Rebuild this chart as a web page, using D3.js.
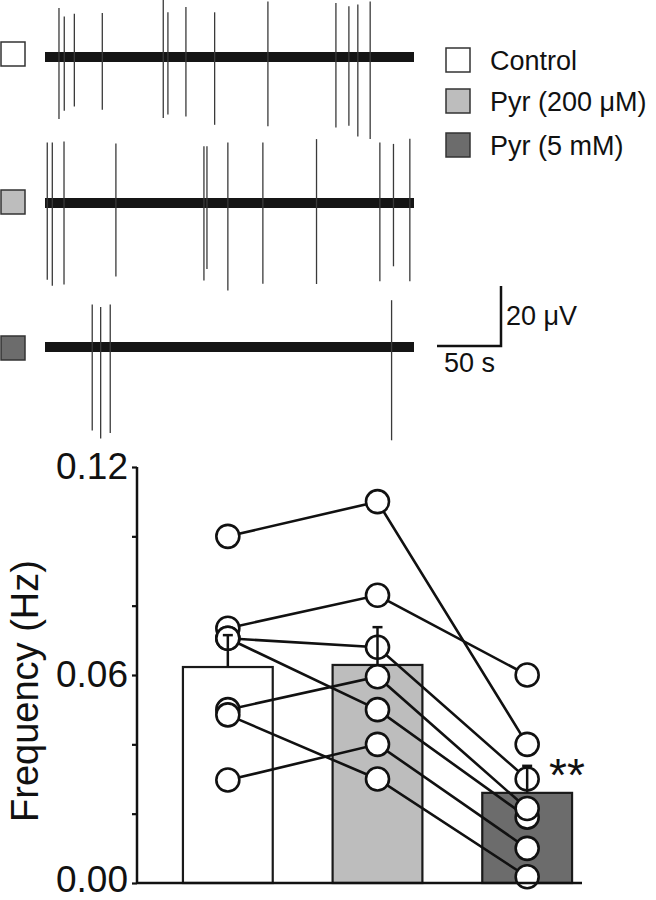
<!DOCTYPE html>
<html>
<head>
<meta charset="utf-8">
<script src="https://cdn.jsdelivr.net/npm/d3@7"></script>
<style>
  body { margin: 0; background: #fff; }
  text { font-family: "Liberation Sans", Arial, sans-serif; fill: #111; }
</style>
</head>
<body>
<div id="chart"></div>
<script>
// groups
var groups = ["Control", "Pyr (200 \u03bcM)", "Pyr (5 mM)"];
var groupColors = ["#ffffff", "#bdbdbd", "#6c6c6c"];

// bar means and SEM (Hz)
var means = [0.0623, 0.0629, 0.026];
var sems = [0.0092, 0.0109, 0.0078];

// paired data, one entry per cell (Hz)
var control = [0.100, 0.0735, 0.0706, 0.0706, 0.0500, 0.0485, 0.0297];
var pyr200 = [0.110, 0.083, 0.068, 0.050, 0.0595, 0.030, 0.040];
var pyr5 = [0.040, 0.060, 0.030, 0.019, 0.0215, 0.0018, 0.010];

var yTicks = [0, 0.02, 0.04, 0.06, 0.08, 0.10, 0.12];
var yLabels = [0, 0.06, 0.12];

// spike times (s), up and down amplitude (uV) for each trace
var spikeTimes1 = [11.1, 15.3, 23.3, 45.5, 93.9, 97.6, 111.9, 134.7, 177, 231, 241.3, 248.4, 258.2];
var spikeUp1 = [16.3, 13.5, 14.4, 14.7, 19.1, 14.9, 16.7, 14.9, 18.5, 18, 16.9, 17.5, 18.5];
var spikeDown1 = [20.7, 17.9, 16.5, 17.6, 20.3, 19.2, 19.8, 22.6, 23.1, 23.5, 22.9, 26.5, 27.3];

var spikeTimes2 = [1.8, 5.8, 15.1, 56.3, 126.2, 128.6, 145.2, 173, 215.6, 265.9, 276.7, 289.7];
var spikeUp2 = [20.2, 20.2, 20.5, 19.8, 18.9, 18.9, 20.2, 20.2, 21.3, 20.2, 19.7, 21.4];
var spikeDown2 = [25.6, 27.6, 27.2, 24.5, 25.8, 22, 29.2, 26.9, 27, 26.1, 21.1, 26.1];

var spikeTimes3 = [37.5, 44.2, 51.8, 275.2];
var spikeUp3 = [14.2, 13.3, 14.2, 15.6];
var spikeDown3 = [27.8, 30.5, 28.7, 31.1];

var traceLength = 293; // s

var svg = d3.select("#chart").append("svg")
  .attr("width", 656)
  .attr("height", 900);

// ---- traces ----
var tScale = d3.scaleLinear().domain([0, traceLength]).range([45, 414]);
var pxPerUV = 3;

var traces = [
  {times: spikeTimes1, up: spikeUp1, down: spikeDown1, y0: 57, color: groupColors[0], sq: 42},
  {times: spikeTimes2, up: spikeUp2, down: spikeDown2, y0: 203, color: groupColors[1], sq: 190},
  {times: spikeTimes3, up: spikeUp3, down: spikeDown3, y0: 347, color: groupColors[2], sq: 336}
];

traces.forEach(function(tr) {
  var uScale = d3.scaleLinear().domain([-40, 40]).range([tr.y0 + 40 * pxPerUV, tr.y0 - 40 * pxPerUV]);
  var g = svg.append("g");

  g.append("rect")
    .attr("x", 1).attr("y", tr.sq)
    .attr("width", 24).attr("height", 24)
    .attr("fill", tr.color)
    .attr("stroke", "#333")
    .attr("stroke-width", 1.5);

  // noise band
  g.append("line")
    .attr("x1", tScale(0)).attr("x2", tScale(traceLength))
    .attr("y1", uScale(0)).attr("y2", uScale(0))
    .attr("stroke", "#151515")
    .attr("stroke-width", 10);

  g.selectAll(".spike")
    .data(tr.times)
    .enter()
    .append("line")
    .attr("class", "spike")
    .attr("x1", d => tScale(d))
    .attr("x2", d => tScale(d))
    .attr("y1", (d, i) => uScale(tr.up[i]))
    .attr("y2", (d, i) => uScale(-tr.down[i]))
    .attr("stroke", "#3a3a3a")
    .attr("stroke-width", 1.3);
});

// scale bar
svg.append("path")
  .attr("d", "M437,346 H501 V286")
  .attr("fill", "none")
  .attr("stroke", "#111")
  .attr("stroke-width", 2.5);
svg.append("text").attr("x", 506).attr("y", 325).attr("font-size", 27).text("20 \u03bcV");
svg.append("text").attr("x", 444).attr("y", 372).attr("font-size", 27).text("50 s");

// legend
var legend = svg.append("g");
var legendY = [48, 89, 133];
groups.forEach(function(name, i) {
  legend.append("rect")
    .attr("x", 446).attr("y", legendY[i])
    .attr("width", 24).attr("height", 24)
    .attr("fill", groupColors[i])
    .attr("stroke", "#333")
    .attr("stroke-width", 1.5);
  legend.append("text")
    .attr("x", 490).attr("y", legendY[i] + 22)
    .attr("font-size", 27)
    .text(name);
});

// ---- bar chart ----
var y = d3.scaleLinear().domain([0, 0.12]).range([883, 467]);
var x = d3.scaleBand().domain(groups).range([153, 602]).paddingInner(0.4).paddingOuter(0.2);
var cx = d => x(d) + x.bandwidth() / 2;

var chart = svg.append("g");

chart.selectAll(".bar")
  .data(means)
  .enter()
  .append("rect")
  .attr("class", "bar")
  .attr("x", (d, i) => x(groups[i]))
  .attr("y", d => y(d))
  .attr("width", x.bandwidth())
  .attr("height", d => y(0) - y(d))
  .attr("fill", (d, i) => groupColors[i])
  .attr("stroke", "#1a1a1a")
  .attr("stroke-width", 2.2);

// paired lines
var series = [control, pyr200, pyr5];
var lineGen = d3.line().x(d => d[0]).y(d => d[1]);
control.forEach(function(v, j) {
  var pts = series.map((s, i) => [cx(groups[i]), y(s[j])]);
  chart.append("path")
    .attr("d", lineGen(pts))
    .attr("fill", "none")
    .attr("stroke", "#111")
    .attr("stroke-width", 2.6);
});

// points
series.forEach(function(s, i) {
  chart.selectAll(".pt" + i)
    .data(s)
    .enter()
    .append("circle")
    .attr("cx", cx(groups[i]))
    .attr("cy", d => y(d))
    .attr("r", 11.5)
    .attr("fill", "#fff")
    .attr("stroke", "#111")
    .attr("stroke-width", 2.6);
});

// error bars
means.forEach(function(m, i) {
  var c = cx(groups[i]);
  chart.append("line")
    .attr("x1", c).attr("x2", c)
    .attr("y1", y(m)).attr("y2", y(m + sems[i]))
    .attr("stroke", "#111").attr("stroke-width", 2.5);
  chart.append("line")
    .attr("x1", c - 5).attr("x2", c + 5)
    .attr("y1", y(m + sems[i])).attr("y2", y(m + sems[i]))
    .attr("stroke", "#111").attr("stroke-width", 2.5);
});

// x axis line
chart.append("line")
  .attr("x1", 137).attr("x2", 582)
  .attr("y1", y(0)).attr("y2", y(0))
  .attr("stroke", "#111").attr("stroke-width", 2.5);

// y axis
var yAxis = d3.axisLeft(y)
  .tickValues(yTicks)
  .tickSize(5)
  .tickPadding(4)
  .tickFormat(d => yLabels.some(v => Math.abs(v - d) < 1e-9) ? d3.format(".2f")(d) : "");

var yG = chart.append("g")
  .attr("transform", "translate(137,0)")
  .call(yAxis);
yG.select(".domain").attr("stroke", "#111").attr("stroke-width", 2.5).attr("d", "M0," + y(0.12) + "V" + y(0));
yG.selectAll(".tick line").attr("stroke", "#111").attr("stroke-width", 2.2);
yG.selectAll(".tick text")
  .attr("font-size", 37)
  .attr("font-family", "Liberation Sans, Arial, sans-serif")
  .attr("fill", "#111")
  .attr("dy", d => d === 0 ? "0.24em" : "0.32em");

chart.append("text")
  .attr("transform", "translate(38,691) rotate(-90)")
  .attr("text-anchor", "middle")
  .attr("font-size", 38)
  .text("Frequency (Hz)");

// significance
chart.append("text")
  .attr("x", 549).attr("y", 791)
  .attr("font-size", 46)
  .text("**");
</script>
</body>
</html>
